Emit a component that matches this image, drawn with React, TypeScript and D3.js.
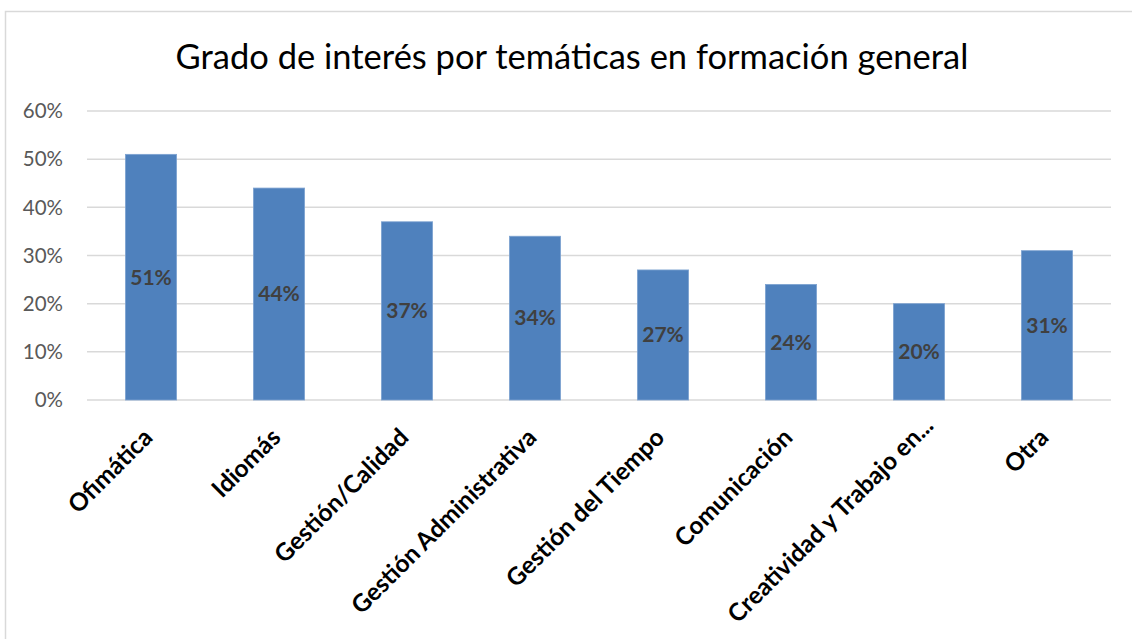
import React from "react";
import * as d3 from "d3";

const categories = [
  "Ofimática",
  "Idiomás",
  "Gestión/Calidad",
  "Gestión Administrativa",
  "Gestión del Tiempo",
  "Comunicación",
  "Creatividad y Trabajo en...",
  "Otra",
];
const values = [0.51, 0.44, 0.37, 0.34, 0.27, 0.24, 0.2, 0.31];
const yTicks = [0, 0.1, 0.2, 0.3, 0.4, 0.5, 0.6];
const title = "Grado de interés por temáticas en formación general";

const W = 1132;
const H = 639;
const FONT = "Lato, 'Liberation Sans', sans-serif";

export default function App() {
  const left = 87;
  const right = 1111;
  const top = 111;
  const bottom = 400;
  const x = d3
    .scaleBand<string>()
    .domain(categories)
    .range([left, right])
    .paddingInner(0.6)
    .paddingOuter(0.3);
  const y = d3.scaleLinear().domain([0, 0.6]).range([bottom, top]);
  const fmt = d3.format(".0%");

  return (
    <svg
      width={W}
      height={H}
      style={{ position: "absolute", left: 0, top: 0, background: "#fff" }}
      fontFamily={FONT}
    >
      <rect x={0} y={0} width={W} height={H} fill="#fff" />
      <rect
        x={5.5}
        y={11.5}
        width={W + 10}
        height={H + 10}
        fill="none"
        stroke="#d9d9d9"
        strokeWidth={1.5}
      />
      <text x={572} y={69} textAnchor="middle" fontSize={34.5} fill="#000">
        {title}
      </text>
      {yTicks.map((t) => (
        <g key={t}>
          <line
            x1={left}
            x2={right}
            y1={y(t)}
            y2={y(t)}
            stroke="#d9d9d9"
            strokeWidth={1.5}
          />
          <text
            x={63}
            y={y(t)}
            dy="0.35em"
            textAnchor="end"
            fontSize={20.5}
            fill="#595959"
          >
            {fmt(t)}
          </text>
        </g>
      ))}
      {categories.map((c, i) => {
        const bx = x(c)!;
        const bw = x.bandwidth();
        const v = values[i];
        return (
          <g key={c}>
            <rect
              x={bx}
              y={y(v)}
              width={bw}
              height={bottom - y(v)}
              fill="#4F81BD"
              stroke="#7ea3d1"
              strokeWidth={0.8}
            />
            <text
              x={bx + bw / 2}
              y={(y(v) + bottom) / 2}
              dy="0.35em"
              textAnchor="middle"
              fontSize={21}
              fontWeight="bold"
              fill="#404040"
            >
              {fmt(v)}
            </text>
          </g>
        );
      })}
      {categories.map((c) => {
        const truncated = c.endsWith("...");
        const cx = x(c)! + x.bandwidth() / 2 + (truncated ? 16 : 3);
        const cy = truncated ? 427 : 439;
        return (
          <text
            key={"l" + c}
            transform={`translate(${cx},${cy}) rotate(-45)`}
            textAnchor="end"
            fontSize={24.5}
            fontWeight="bold"
            fill="#000"
          >
            {c}
          </text>
        );
      })}
    </svg>
  );
}
